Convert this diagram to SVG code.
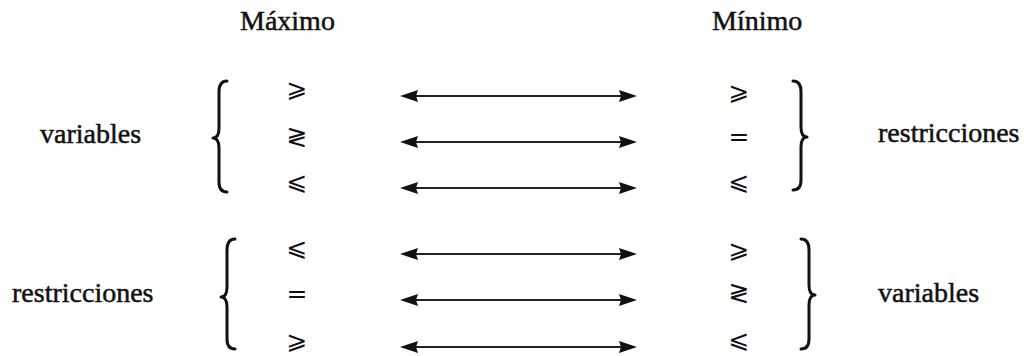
<svg xmlns="http://www.w3.org/2000/svg" width="1029" height="356" viewBox="0 0 1029 356">
<style>
.t{font-family:"Liberation Serif","Times New Roman",serif;font-size:28px;fill:#111;stroke:#111;stroke-width:0.5}
.s{font-family:"DejaVu Serif","DejaVu Sans",serif;font-size:25px;fill:#111;text-anchor:middle}
.br{fill:none;stroke:#111;stroke-width:3;stroke-linecap:round;stroke-linejoin:round}
.ar{stroke:#222;stroke-width:2;fill:none}
.ah{fill:#111}
</style>
<rect width="1029" height="356" fill="#fff"/>
<g id="headers">
<text class="t" x="240" y="30">Máximo</text>
<text class="t" x="712" y="30">Mínimo</text>
</g>
<g id="labels">
<text class="t" x="40" y="143">variables</text>
<text class="t" x="878" y="142">restricciones</text>
<text class="t" x="12" y="302">restricciones</text>
<text class="t" x="878" y="302">variables</text>
</g>
<g id="braces">
<path class="br" d="M227 81 Q219 81 219 92 L219 128 Q219 138 213 138 Q219 138 219 148 L219 182 Q219 192 227 192"/>
<path class="br" d="M235 239 Q227 239 227 250 L227 287 Q227 297 221 297 Q227 297 227 307 L227 339 Q227 349 235 349"/>
<path class="br" d="M793 81 Q801 81 801 92 L801 127 Q801 137 807 137 Q801 137 801 147 L801 180 Q801 190 793 190"/>
<path class="br" d="M801 239 Q809 239 809 250 L809 285 Q809 295 815 295 Q809 295 809 305 L809 339 Q809 349 801 349"/>
</g>
<g id="symbols-max">
<text class="s" x="297" y="97">⩾</text>
<text class="s" x="297" y="145">≷</text>
<text class="s" x="297" y="190">⩽</text>
<text class="s" x="297" y="256">⩽</text>
<text class="s" x="297" y="302">=</text>
<text class="s" x="297" y="349">⩾</text>
</g>
<g id="symbols-min">
<text class="s" x="739" y="100">⩾</text>
<text class="s" x="739" y="145">=</text>
<text class="s" x="739" y="190">⩽</text>
<text class="s" x="739" y="258">⩾</text>
<text class="s" x="739" y="301">≷</text>
<text class="s" x="739" y="348">⩽</text>
</g>
<g id="connectors">
<g transform="translate(0,96)"><line class="ar" x1="414" y1="0" x2="622" y2="0"/><path class="ah" d="M400 0 L418 -6 L416 0 L418 6 Z"/><path class="ah" d="M637 0 L619 -6 L621 0 L619 6 Z"/></g>
<g transform="translate(0,142)"><line class="ar" x1="414" y1="0" x2="622" y2="0"/><path class="ah" d="M400 0 L418 -6 L416 0 L418 6 Z"/><path class="ah" d="M637 0 L619 -6 L621 0 L619 6 Z"/></g>
<g transform="translate(0,188)"><line class="ar" x1="414" y1="0" x2="622" y2="0"/><path class="ah" d="M400 0 L418 -6 L416 0 L418 6 Z"/><path class="ah" d="M637 0 L619 -6 L621 0 L619 6 Z"/></g>
<g transform="translate(0,254)"><line class="ar" x1="414" y1="0" x2="622" y2="0"/><path class="ah" d="M400 0 L418 -6 L416 0 L418 6 Z"/><path class="ah" d="M637 0 L619 -6 L621 0 L619 6 Z"/></g>
<g transform="translate(0,300)"><line class="ar" x1="414" y1="0" x2="622" y2="0"/><path class="ah" d="M400 0 L418 -6 L416 0 L418 6 Z"/><path class="ah" d="M637 0 L619 -6 L621 0 L619 6 Z"/></g>
<g transform="translate(0,347)"><line class="ar" x1="414" y1="0" x2="622" y2="0"/><path class="ah" d="M400 0 L418 -6 L416 0 L418 6 Z"/><path class="ah" d="M637 0 L619 -6 L621 0 L619 6 Z"/></g>
</g>
</svg>
